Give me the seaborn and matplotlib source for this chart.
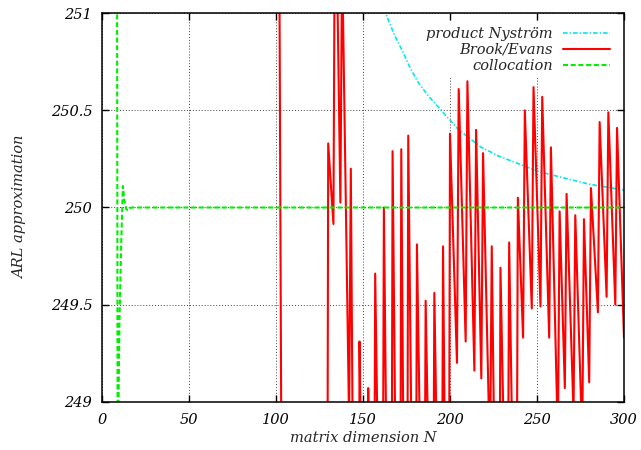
import matplotlib
matplotlib.use("Agg")
import matplotlib.pyplot as plt
import seaborn as sns
import pandas as pd

# ---- data ----
nystrom_N = [150, 163, 168, 173, 177, 182, 188, 194, 200, 205, 218, 228, 238, 251, 262, 280, 300]
nystrom_arl = [251.40, 251.00, 250.89, 250.80, 250.72, 250.64, 250.57, 250.51, 250.45, 250.40,
               250.31, 250.265, 250.23, 250.185, 250.16, 250.12, 250.09]

brook_N = [100, 101, 102, 103, 104, 129, 130, 133, 134, 137, 138, 142, 143, 147, 148,
           152, 153, 156, 157, 161, 162, 166, 167, 171, 172, 175, 176, 180, 181, 185, 186,
           190, 191, 195, 196, 199, 200, 204, 205, 209, 210, 214, 215, 218, 219, 223, 224,
           228, 229, 233, 234, 238, 239, 242, 243, 247, 248, 252, 253, 257, 258, 262, 263,
           266, 267, 271, 272, 276, 277, 280, 281, 285, 286, 290, 291, 295, 296, 300]
brook_arl = [253.0, 252.0, 251.1, 248.9, 246.0, 246.0, 250.33, 249.915, 251.9, 250.025, 251.3,
             248.9, 250.20, 245.0, 249.31,
             246.5, 249.07, 247.0, 249.66, 247.2, 250.00, 246.5, 250.29, 246.5, 250.30, 246.5, 250.37,
             247.0, 249.81, 247.5, 249.52,
             247.5, 249.56, 247.3, 249.80, 246.8, 250.38, 249.20, 250.61, 249.31, 250.65, 249.16, 250.40,
             249.12, 250.28, 248.68, 249.80,
             246.9, 249.69, 247.85, 249.82, 247.5, 250.05, 249.33, 250.50, 249.48, 250.62, 249.49, 250.57,
             249.33, 250.31, 248.8, 249.98,
             249.07, 250.07, 248.94, 249.96, 248.8, 249.94, 249.10, 250.10, 249.46, 250.44, 249.54, 250.49,
             249.50, 250.41, 249.33]

colloc_N = [5, 6, 7, 8, 9, 10, 11, 12, 13, 14, 15, 16, 17, 300]
colloc_arl = [300.0, 280.0, 265.0, 256.0, 248.6, 249.4, 249.8, 250.11, 250.03, 249.99, 249.985,
              249.995, 250.0, 250.0]

labels = ["product Nyström", "Brook/Evans", "collocation"]
x_ticks = [0, 50, 100, 150, 200, 250, 300]
y_ticks = [249, 249.5, 250, 250.5, 251]
y_ticklabels = ["249", "249.5", "250", "250.5", "251"]

# ---- styling ----
sns.set_theme(style="white")
plt.rcParams["font.family"] = ["DejaVu Serif"]
plt.rcParams["font.style"] = "italic"
plt.rcParams["font.size"] = 10
plt.rcParams["axes.linewidth"] = 1.0
plt.rcParams["axes.edgecolor"] = "black"

fig = plt.figure(figsize=(6.41, 4.50), dpi=100)
ax = fig.add_axes([102 / 641, 1 - 401.7 / 450, (624 - 102) / 641, (401.7 - 13.3) / 450])

df_n = pd.DataFrame({"N": nystrom_N, "ARL": nystrom_arl})
df_b = pd.DataFrame({"N": brook_N, "ARL": brook_arl})
df_c = pd.DataFrame({"N": colloc_N, "ARL": colloc_arl})

sns.lineplot(data=df_n, x="N", y="ARL", ax=ax, color="#00e8ee", lw=1.2, label=labels[0],
             estimator=None, sort=False)
ax.lines[-1].set_dashes((2.8, 1.2, 0.8, 1.2))
sns.lineplot(data=df_b, x="N", y="ARL", ax=ax, color="#ff0000", lw=1.5, label=labels[1],
             estimator=None, sort=False)
sns.lineplot(data=df_c, x="N", y="ARL", ax=ax, color="#00ee00", lw=1.5, label=labels[2],
             estimator=None, sort=False)
ax.lines[-1].set_dashes((2.4, 1.3))

ax.set_xlim(0, 300)
ax.set_ylim(249, 251)
ax.set_xticks(x_ticks)
ax.set_xticklabels([str(t) for t in x_ticks])
ax.set_yticks(y_ticks)
ax.set_yticklabels(y_ticklabels)
ax.tick_params(direction="in", length=5, width=1, top=True, right=True,
               bottom=True, left=True, labelsize=10.5, colors="black")
ax.tick_params(axis="y", pad=7)
ax.tick_params(axis="x", pad=8)
ax.grid(True, color="#444444", lw=0.7, linestyle=(0, (1, 2)))
ax.set_axisbelow(True)
for s in ax.spines.values():
    s.set_color("black")
    s.set_linewidth(1.1)

ax.set_xlabel("matrix dimension N", fontsize=10.5, labelpad=3)
ax.set_ylabel("ARL approximation", fontsize=10.5, labelpad=17)

leg = ax.legend(loc="upper right", markerfirst=False, frameon=True, fancybox=False,
                edgecolor="none", facecolor="white", framealpha=1.0,
                handlelength=3.2, handletextpad=0.75, labelspacing=0.12,
                borderpad=0.35, borderaxespad=0.6, fontsize=10.5)
for vp in leg._legend_box._children[-1]._children:
    vp.align = "right"

fig.savefig("out.png", dpi=100)
